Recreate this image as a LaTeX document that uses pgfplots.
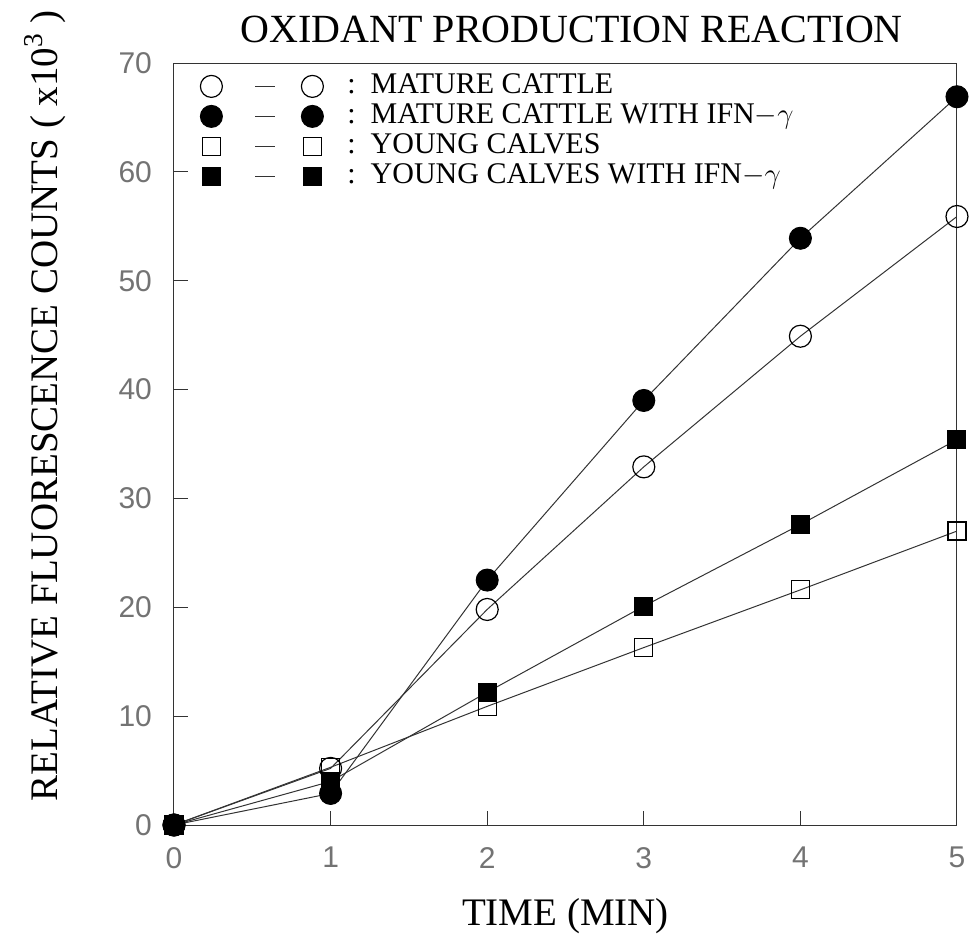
\documentclass[border=0pt]{standalone}
\usepackage{pgfplots}
\pgfplotsset{compat=1.18}
\usepackage{fontspec}
\setmainfont{Liberation Serif}
\newfontfamily\tickfont{Liberation Sans}
\begin{document}
\begin{tikzpicture}
\begin{axis}[
  scale only axis, width=391.5pt, height=381pt,
  xmin=0, xmax=5, ymin=0, ymax=70,
  xtick={0,1,2,3,4,5}, ytick={0,10,20,30,40,50,60,70},
  tick align=inside, xtick pos=bottom, ytick pos=left,
  major tick length=7pt,
  axis line style={black!80, line width=0.5pt},
  every tick/.style={black!80, line width=0.5pt},
  /pgf/number format/assume math mode=true,
  ticklabel style={font=\tickfont\fontsize{15}{15}\selectfont, text=black!55},
  xticklabel style={yshift=-7.5pt},
  yticklabel style={xshift=-7.5pt},
  title={OXIDANT PRODUCTION REACTION},
  title style={at={(axis description cs:0.508,1)}, anchor=base, yshift=4.5pt, font=\fontsize{20}{20}\selectfont},
  xlabel={TIME (MIN)},
  every axis x label/.style={at={(axis description cs:0.5,0)}, anchor=base, yshift=-50pt, font=\fontsize{19.5}{19.5}\selectfont},
  ylabel={RELATIVE FLUORESCENCE COUNTS ( x10\textsuperscript{3} )},
  every axis y label/.style={at={(axis description cs:-0.149,0.55)}, rotate=90, anchor=base, font=\fontsize{19.5}{19.5}\selectfont},
  legend image code/.code={
    \draw[black!80, line width=0.5pt] (22pt,0pt) -- (32pt,0pt);
    \draw[#1, mark repeat=1] plot[only marks] coordinates {(0pt,0pt) (50.5pt,0pt)};
  },
  legend cell align=left,
  legend style={at={(axis description cs:0,1)}, anchor=north west, xshift=10pt, yshift=-2pt,
    draw=none, fill=none, font=\fontsize{15}{15}\selectfont, row sep=0pt,
    nodes={text height=10.5pt, text depth=3pt, inner ysep=0.75pt},
    /tikz/every odd column/.append style={column sep=10pt}},
  every axis plot/.append style={black!80, line width=0.5pt},
]
\addplot[mark=o, mark size=5.5pt, mark options={solid, draw=black, fill=white, line width=0.6pt}]
  coordinates {(0,0) (1,5.2) (2,19.8) (3,32.9) (4,44.9) (5,55.9)};
\addlegendentry{:\ \ MATURE CATTLE}
\addplot[mark=*, mark size=5.5pt, mark options={solid, draw=black, fill=black}]
  coordinates {(0,0) (1,2.9) (2,22.5) (3,39.0) (4,53.9) (5,66.9)};
\addlegendentry{:\ \ MATURE CATTLE WITH IFN$-\gamma$}
\addplot[mark=square, mark size=4.5pt, mark options={solid, draw=black, fill=white, line width=0.6pt}]
  coordinates {(0,0) (1,5.3) (2,10.9) (3,16.3) (4,21.6) (5,27.0)};
\addlegendentry{:\ \ YOUNG CALVES}
\addplot[mark=square*, mark size=4.5pt, mark options={solid, draw=black, fill=black}]
  coordinates {(0,0) (1,4.0) (2,12.2) (3,20.1) (4,27.6) (5,35.4)};
\addlegendentry{:\ \ YOUNG CALVES WITH IFN$-\gamma$}
\coordinate (O) at (rel axis cs:0,0);
\end{axis}
\pgfresetboundingbox
\path[use as bounding box] (O) ++(-87pt,-54pt) rectangle ++(484.5pt,466.5pt);
\end{tikzpicture}
\end{document}
